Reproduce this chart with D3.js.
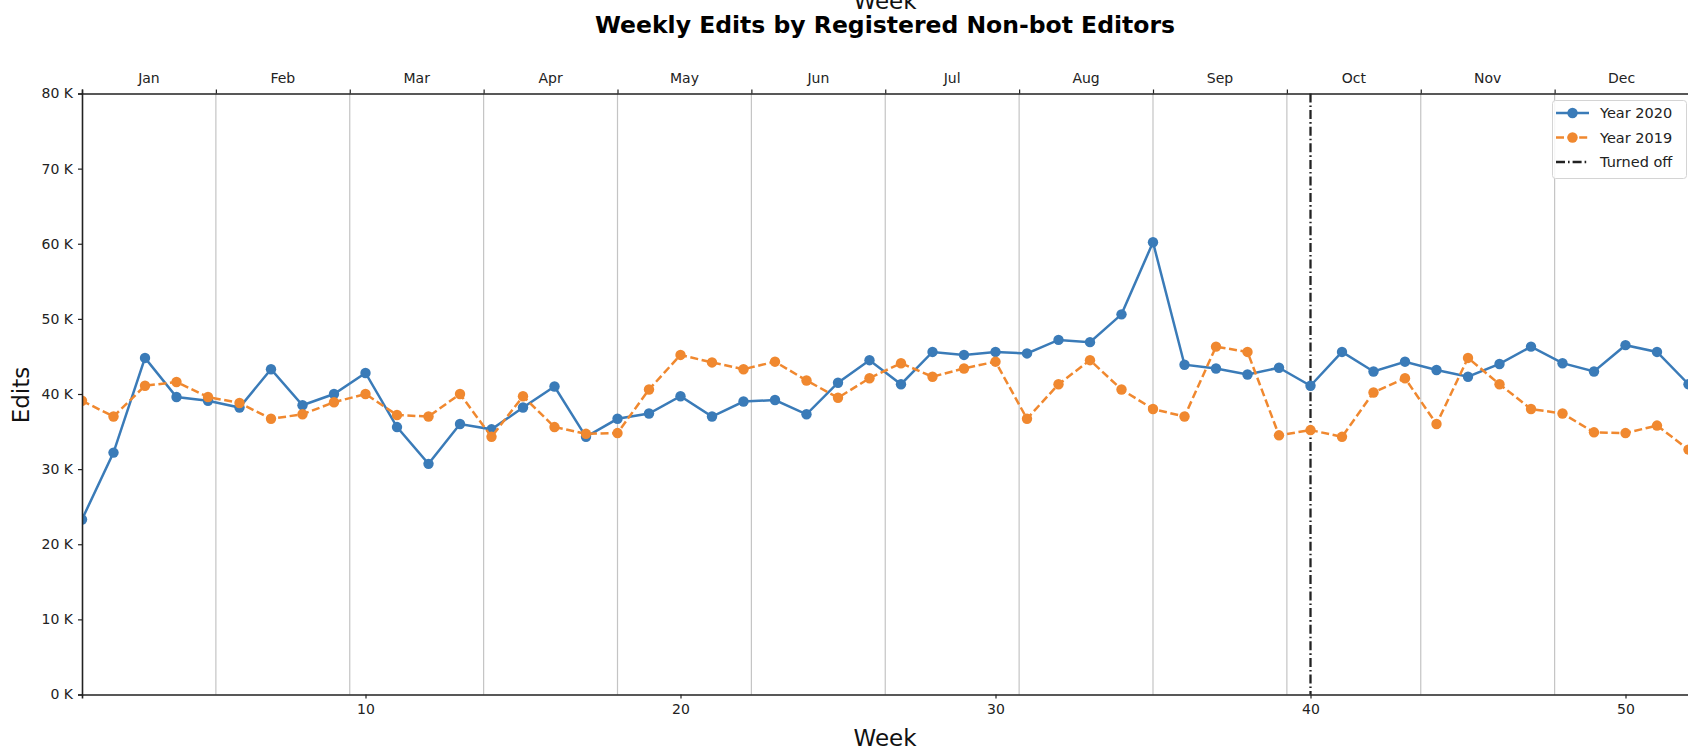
<!DOCTYPE html>
<html>
<head>
<meta charset="utf-8">
<script src="https://cdn.jsdelivr.net/npm/d3@7"></script>
<style>
  body { margin: 0; background: #fff; }
  svg { display: block; font-family: "DejaVu Sans", sans-serif; }
</style>
</head>
<body>
<svg id="chart" width="1688" height="751"></svg>
<script>
// week numbers on the x axis
const weeks = [1, 2, 3, 4, 5, 6, 7, 8, 9, 10, 11, 12, 13, 14, 15, 16, 17, 18, 19, 20,
  21, 22, 23, 24, 25, 26, 27, 28, 29, 30, 31, 32, 33, 34, 35, 36, 37, 38, 39, 40,
  41, 42, 43, 44, 45, 46, 47, 48, 49, 50, 51, 52];

const months = ["Jan", "Feb", "Mar", "Apr", "May", "Jun", "Jul", "Aug", "Sep", "Oct", "Nov", "Dec"];

// weekly edits
const edits2020 = [23300, 32200, 44800, 39600, 39100, 38200, 43300, 38500, 40000, 42800,
  35600, 30700, 36000, 35300, 38200, 41000, 34300, 36700, 37400, 39700,
  37000, 39000, 39200, 37300, 41500, 44500, 41300, 45600, 45200, 45600,
  45400, 47200, 46900, 50600, 60200, 43900, 43400, 42600, 43500, 41100,
  45600, 43000, 44300, 43200, 42300, 44000, 46300, 44100, 43000, 46500,
  45600, 41300];

const edits2019 = [39100, 37000, 41100, 41600, 39600, 38800, 36700, 37300, 38900, 40000,
  37200, 37000, 40000, 34300, 39700, 35600, 34700, 34800, 40600, 45200,
  44200, 43300, 44300, 41800, 39500, 42100, 44100, 42300, 43400, 44300,
  36700, 41300, 44500, 40600, 38000, 37000, 46300, 45600, 34500, 35200,
  34300, 40200, 42100, 36000, 44800, 41300, 38000, 37400, 34900, 34800,
  35800, 32600];

const yTicks = [0, 10000, 20000, 30000, 40000, 50000, 60000, 70000, 80000];
const xTicks = [10, 20, 30, 40, 50];
const turnedOffWeek = 40;

const plotLeft = 82, plotRight = 1688.5, plotTop = 93.5, plotBottom = 694.5;
const blue = "#3a7bb8", orange = "#f0882f", ink = "#222";

const svg = d3.select("#chart");

const x = d3.scaleLinear().domain([1, 52]).range([plotLeft, plotRight]);
const y = d3.scaleLinear().domain([0, 80000]).range([plotBottom, plotTop]);
const monthEdge = d3.scaleLinear().domain([0, 12]).range([plotLeft, plotRight]);
const monthBand = d3.scaleBand().domain(months).range([plotLeft, plotRight]);

svg.append("defs").append("clipPath").attr("id", "plot")
  .append("rect").attr("x", plotLeft).attr("y", plotTop)
  .attr("width", plotRight - plotLeft).attr("height", plotBottom - plotTop);

// month boundary gridlines
svg.append("g")
  .selectAll("line")
  .data(d3.range(1, 12))
  .enter().append("line")
  .attr("x1", d => monthEdge(d)).attr("x2", d => monthEdge(d))
  .attr("y1", plotTop).attr("y2", plotBottom)
  .attr("stroke", "#c4c4c4").attr("stroke-width", 1.2);

// turned off marker
svg.append("line")
  .attr("x1", x(turnedOffWeek)).attr("x2", x(turnedOffWeek))
  .attr("y1", plotTop).attr("y2", plotBottom)
  .attr("stroke", ink).attr("stroke-width", 2.3)
  .attr("stroke-dasharray", "9,3,1.6,3");

const plot = svg.append("g").attr("clip-path", "url(#plot)");

function drawSeries(values, color, dash) {
  const pts = weeks.map((w, i) => [w, values[i]]);
  plot.append("path")
    .datum(pts)
    .attr("fill", "none")
    .attr("stroke", color)
    .attr("stroke-width", 2.5)
    .attr("stroke-dasharray", dash)
    .attr("d", d3.line().x(d => x(d[0])).y(d => y(d[1])));
  plot.append("g")
    .selectAll("circle")
    .data(pts)
    .enter().append("circle")
    .attr("cx", d => x(d[0]))
    .attr("cy", d => y(d[1]))
    .attr("r", 5.2)
    .attr("fill", color);
}

drawSeries(edits2020, blue, null);
drawSeries(edits2019, orange, "8,3.6");

function styleAxis(g) {
  g.select(".domain").attr("stroke", ink).attr("stroke-width", 1.6);
  g.selectAll(".tick line").attr("stroke", ink).attr("stroke-width", 1.2);
  g.selectAll(".tick text").attr("fill", "#222").style("font-family", "DejaVu Sans").style("font-size", "14px");
}

// left axis
svg.append("g")
  .attr("transform", "translate(" + plotLeft + ",0)")
  .call(d3.axisLeft(y).tickValues(yTicks).tickSize(4).tickPadding(5)
    .tickFormat(d => (d / 1000) + " K"))
  .call(styleAxis);

// bottom axis
svg.append("g")
  .attr("transform", "translate(0," + plotBottom + ")")
  .call(d3.axisBottom(x).tickValues(xTicks).tickSize(4).tickPadding(6))
  .call(styleAxis);

// top axis: month boundaries and month names
svg.append("g")
  .attr("transform", "translate(0," + plotTop + ")")
  .call(d3.axisTop(monthEdge).tickValues(d3.range(0, 13)).tickSize(4).tickFormat(""))
  .call(styleAxis);

svg.append("g")
  .attr("transform", "translate(0," + plotTop + ")")
  .call(d3.axisTop(monthBand).tickSize(0).tickPadding(11))
  .call(g => g.select(".domain").remove())
  .call(styleAxis);

// axis labels (the top one sits half hidden above the title, as in the original)
svg.append("text")
  .attr("x", 885).attr("y", 9)
  .attr("text-anchor", "middle")
  .style("font-size", "23px")
  .attr("fill", "#111")
  .text("Week");

svg.append("text")
  .attr("x", 885).attr("y", 746)
  .attr("text-anchor", "middle")
  .style("font-size", "23px")
  .attr("fill", "#111")
  .text("Week");

svg.append("text")
  .attr("transform", "translate(29,395) rotate(-90)")
  .attr("text-anchor", "middle")
  .style("font-size", "23px")
  .attr("fill", "#111")
  .text("Edits");

// title
svg.append("text")
  .attr("x", 885).attr("y", 33)
  .attr("text-anchor", "middle")
  .style("font-size", "23.5px")
  .style("font-weight", "bold")
  .attr("fill", "#000")
  .text("Weekly Edits by Registered Non-bot Editors");

// legend
const legendItems = [
  { label: "Year 2020", color: blue, dash: null, marker: true },
  { label: "Year 2019", color: orange, dash: "8,3.6", marker: true },
  { label: "Turned off", color: ink, dash: "9,3,1.6,3", marker: false }
];

const legend = svg.append("g");
legend.append("rect")
  .attr("x", 1552.5).attr("y", 100.5)
  .attr("width", 134).attr("height", 78)
  .attr("rx", 3)
  .attr("fill", "#fff").attr("fill-opacity", 0.85)
  .attr("stroke", "#d4d4d4");

const rows = legend.selectAll("g.row")
  .data(legendItems)
  .enter().append("g")
  .attr("transform", (d, i) => "translate(0," + (113 + i * 24.5) + ")");

rows.append("line")
  .attr("x1", 1556).attr("x2", 1589)
  .attr("stroke", d => d.color)
  .attr("stroke-width", 2.5)
  .attr("stroke-dasharray", d => d.dash);

rows.filter(d => d.marker).append("circle")
  .attr("cx", 1572.5).attr("r", 5.2)
  .attr("fill", d => d.color);

rows.append("text")
  .attr("x", 1600).attr("dy", "0.35em")
  .style("font-size", "14.5px")
  .attr("fill", "#222")
  .text(d => d.label);
</script>
</body>
</html>
